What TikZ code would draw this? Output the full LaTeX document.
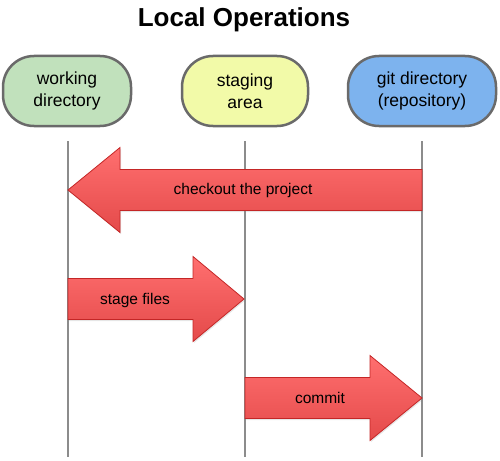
\documentclass[tikz,border=0pt]{standalone}
\usepackage{fontspec}
\setmainfont{Liberation Sans}
\usetikzlibrary{shadows}

\definecolor{wdgreen}{HTML}{C1E1BC}
\definecolor{sayellow}{HTML}{F2FAA8}
\definecolor{gdblue}{HTML}{7DB3EE}
\definecolor{boxgray}{HTML}{6A6A6A}
\definecolor{lanegray}{HTML}{8C8C8C}
\definecolor{arrowtop}{HTML}{FF6F6F}
\definecolor{arrowbot}{HTML}{E44A4A}
\definecolor{arrowedge}{HTML}{C42626}

% tail x, neck x, tip x, middle y
\newcommand{\opsarrow}[4]{%
  \path[oparrow] (#1,#4-20.5) -- (#2,#4-20.5) -- (#2,#4-42.5) -- (#3,#4)
    -- (#2,#4+42.5) -- (#2,#4+20.5) -- (#1,#4+20.5) -- cycle;}

\begin{document}
\begin{tikzpicture}[x=1pt, y=-1pt,
  every node/.style={font=\fontsize{17.5}{22}\selectfont},
  area/.style={draw=boxgray, line width=2.5pt, rounded corners=31pt,
    minimum height=70pt, align=center, inner sep=0pt},
  lane/.style={draw=lanegray, line width=2.8pt},
  oparrow/.style={draw=arrowedge, line width=0.8pt, top color=arrowtop,
    bottom color=arrowbot,
    drop shadow={opacity=0.2, shadow xshift=1pt, shadow yshift=-1.5pt}},
  oplabel/.style={font=\fontsize{15.5}{18}\selectfont}]
	\useasboundingbox (0,0) rectangle (500,460);
	\node[font=\fontsize{26}{30}\selectfont\bfseries, anchor=base] (title) at (244,27) {Local Operations};
	\node[area, fill=wdgreen, minimum width=128pt] (wd) at (67,91) {working\\directory};
	\node[area, fill=sayellow, minimum width=126pt] (sa) at (245,91) {staging\\area};
	\node[area, fill=gdblue, minimum width=148pt] (gd) at (422,91) {git directory\\(repository)};
	\coordinate (bottom) at (0,457);
	\draw[lane] ([xshift=1pt, yshift=-14pt]wd.south) -- ([xshift=1pt]wd.south |- bottom);
	\draw[lane] ([yshift=-14pt]sa.south) -- (sa.south |- bottom);
	\draw[lane] ([yshift=-14pt]gd.south) -- (gd.south |- bottom);
	\opsarrow{422}{120}{68}{190}
	\opsarrow{68}{193}{244}{299}
	\opsarrow{245}{370}{422}{398}
	\node[oplabel] (checkout) at (243,190) {checkout the project};
	\node[oplabel] (stage) at (135,300) {stage files};
	\node[oplabel] (commit) at (320,398) {commit};
\end{tikzpicture}
\end{document}
